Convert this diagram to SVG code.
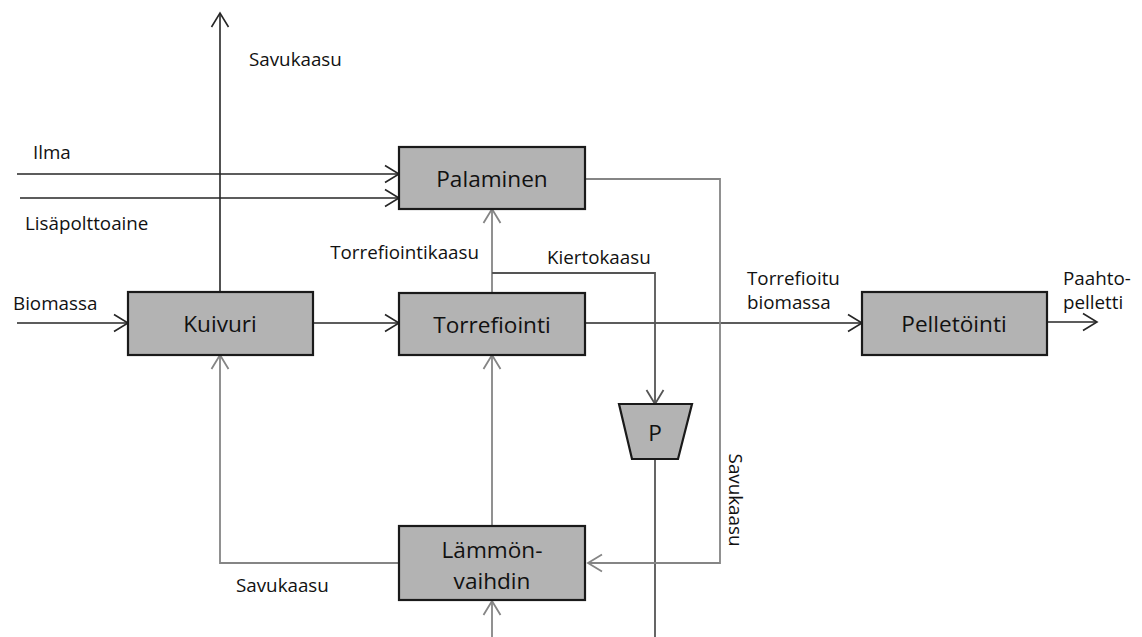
<svg xmlns="http://www.w3.org/2000/svg" width="1142" height="637" viewBox="0 0 1142 637">
  <style>
    .box { fill: #b3b3b3; stroke: #1a1a1a; stroke-width: 2.2; }
    .node-label { font-family: "Open Sans", "Liberation Sans", sans-serif; font-size: 22.6px; fill: #111; text-anchor: middle; dominant-baseline: central; }
    .label { font-family: "Open Sans", "Liberation Sans", sans-serif; font-size: 18.8px; fill: #111; dominant-baseline: central; }
    .flow { fill: none; stroke: #262626; stroke-width: 1.6; }
    .gas { fill: none; stroke: #858585; stroke-width: 1.8; }
    .dark { fill: none; stroke: #555; stroke-width: 1.8; }
  </style>
  <defs>
    <marker id="arrow-black" markerUnits="userSpaceOnUse" markerWidth="18" markerHeight="20" viewBox="0 0 18 20" refX="15" refY="10" orient="auto">
      <path d="M1,1.5 L15,10 L1,18.5" fill="none" stroke="#262626" stroke-width="1.6"/>
    </marker>
    <marker id="arrow-gray" markerUnits="userSpaceOnUse" markerWidth="18" markerHeight="20" viewBox="0 0 18 20" refX="15" refY="10" orient="auto">
      <path d="M1,1.5 L15,10 L1,18.5" fill="none" stroke="#858585" stroke-width="1.8"/>
    </marker>
    <marker id="arrow-dark" markerUnits="userSpaceOnUse" markerWidth="18" markerHeight="20" viewBox="0 0 18 20" refX="15" refY="10" orient="auto">
      <path d="M1,1.5 L15,10 L1,18.5" fill="none" stroke="#555" stroke-width="1.8"/>
    </marker>
  </defs>

  <rect width="1142" height="637" fill="#ffffff"/>

  <!-- connectors -->
  <g id="connectors">
    <!-- flue gas out of the dryer -->
    <line class="flow" x1="220" y1="292" x2="220" y2="13" marker-end="url(#arrow-black)"/>
    <!-- air and extra fuel into combustion -->
    <line class="flow" x1="17" y1="174" x2="399" y2="174" marker-end="url(#arrow-black)"/>
    <line class="flow" x1="20" y1="198" x2="399" y2="198" marker-end="url(#arrow-black)"/>
    <!-- biomass into dryer -->
    <line class="flow" x1="17" y1="323" x2="128" y2="323" marker-end="url(#arrow-black)"/>
    <!-- dryer to torrefaction -->
    <line class="flow" x1="313" y1="323" x2="399" y2="323" marker-end="url(#arrow-black)"/>
    <!-- torrefied biomass to pelletising -->
    <line class="flow" x1="585" y1="323" x2="862" y2="323" marker-end="url(#arrow-black)"/>
    <!-- pellets out -->
    <line class="flow" x1="1047" y1="322" x2="1097" y2="322" marker-end="url(#arrow-black)"/>
    <!-- torrefaction gas to combustion -->
    <line class="gas" x1="492" y1="293" x2="492" y2="209" marker-end="url(#arrow-gray)"/>
    <!-- recycle gas to fan -->
    <polyline class="dark" points="492,273 655,273 655,404" marker-end="url(#arrow-dark)"/>
    <!-- fan outlet downwards -->
    <line class="dark" x1="655" y1="459" x2="655" y2="637"/>
    <!-- combustion flue gas to heat exchanger -->
    <polyline class="gas" points="585,179 720,179 720,563 588,563" marker-end="url(#arrow-gray)"/>
    <!-- heat exchanger flue gas to dryer -->
    <polyline class="gas" points="399,563 220,563 220,355" marker-end="url(#arrow-gray)"/>
    <!-- heat exchanger to torrefaction -->
    <line class="gas" x1="492" y1="526" x2="492" y2="355" marker-end="url(#arrow-gray)"/>
    <!-- inflow to heat exchanger -->
    <line class="gas" x1="492" y1="637" x2="492" y2="601" marker-end="url(#arrow-gray)"/>
  </g>

  <!-- nodes -->
  <g id="palaminen">
    <rect class="box" x="399" y="147" width="186" height="62"/>
    <text class="node-label" x="492" y="178">Palaminen</text>
  </g>
  <g id="kuivuri">
    <rect class="box" x="128" y="292" width="185" height="63"/>
    <text class="node-label" x="220" y="323">Kuivuri</text>
  </g>
  <g id="torrefiointi">
    <rect class="box" x="399" y="293" width="186" height="62"/>
    <text class="node-label" x="492" y="324">Torrefiointi</text>
  </g>
  <g id="pelletointi">
    <rect class="box" x="862" y="292" width="185" height="63"/>
    <text class="node-label" x="954" y="323">Pelletöinti</text>
  </g>
  <g id="lammonvaihdin">
    <rect class="box" x="399" y="526" width="186" height="74"/>
    <text class="node-label" x="492" y="549">Lämmön-</text>
    <text class="node-label" x="492" y="580">vaihdin</text>
  </g>
  <g id="puhallin">
    <polygon class="box" points="619,404 692,404 678,459 632,459"/>
    <text class="node-label" x="655" y="432">P</text>
  </g>

  <!-- stream labels -->
  <g id="labels">
    <text class="label" x="249" y="59">Savukaasu</text>
    <text class="label" x="33" y="152">Ilma</text>
    <text class="label" x="25" y="223">Lisäpolttoaine</text>
    <text class="label" x="13" y="303">Biomassa</text>
    <text class="label" x="479" y="252" text-anchor="end">Torrefiointikaasu</text>
    <text class="label" x="547" y="257">Kiertokaasu</text>
    <text class="label" x="747" y="278">Torrefioitu</text>
    <text class="label" x="747" y="302">biomassa</text>
    <text class="label" x="1063" y="278">Paahto-</text>
    <text class="label" x="1063" y="302">pelletti</text>
    <text class="label" x="236" y="585">Savukaasu</text>
    <text class="label" transform="translate(736,500) rotate(90)" text-anchor="middle">Savukaasu</text>
  </g>
</svg>
